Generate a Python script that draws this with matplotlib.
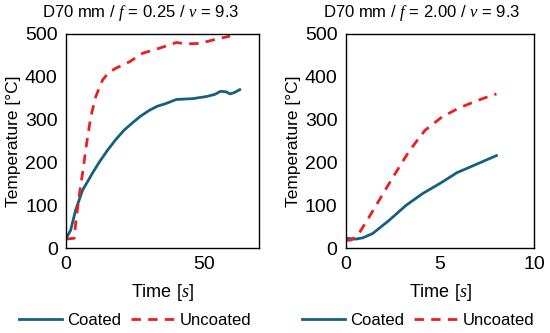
import matplotlib
matplotlib.use("Agg")
import matplotlib.pyplot as plt

plt.rcParams["font.family"] = ["Liberation Sans", "DejaVu Sans"]
plt.rcParams["mathtext.fontset"] = "custom"
plt.rcParams["mathtext.it"] = "Liberation Serif:italic"
plt.rcParams["mathtext.rm"] = "Liberation Sans"

COATED = "#15607f"
UNCOATED = "#e8201f"

# left panel: f = 0.25
t_coat_a = [0, 1.7, 3.5, 6, 9.6, 12, 15, 18, 21, 24, 27, 30.3, 33, 36, 40, 43, 46, 51, 54, 56, 58, 59.5, 61, 63]
T_coat_a = [22, 42, 89, 135, 175, 200, 228, 253, 275, 292, 308, 322, 331, 337, 347, 348, 349, 354, 359, 366, 365, 360, 363, 370]
t_unc_a = [0, 1.5, 3, 3.5, 4.7, 6, 7.5, 9, 10.8, 13.3, 15.5, 18.1, 23, 27.8, 34, 40, 43.7, 48.5, 54.6, 59.5]
T_unc_a = [21, 22, 23, 58, 119, 175, 245, 307, 354, 393, 410, 420, 435, 455, 467, 480, 477, 478, 488, 495]

# right panel: f = 2.00
t_coat_b = [0, 0.53, 0.9, 1.42, 2.3, 3.2, 4.1, 5.0, 5.9, 6.9, 8.0]
T_coat_b = [23, 21, 24, 34, 65, 100, 128, 151, 176, 195, 216]
t_unc_b = [0, 0.3, 0.7, 1.24, 1.77, 2.3, 2.84, 3.4, 4.2, 5.1, 6.0, 6.9, 7.7, 8.0]
T_unc_b = [18, 19, 35, 73, 112, 151, 190, 229, 275, 306, 327, 343, 356, 360]

panels = [
    (t_coat_a, T_coat_a, t_unc_a, T_unc_a, 70, [0, 50], r"D70 mm / $f$ = 0.25 / $v$ = 9.3"),
    (t_coat_b, T_coat_b, t_unc_b, T_unc_b, 10, [0, 5, 10], r"D70 mm / $f$ = 2.00 / $v$ = 9.3"),
]
boxes = [[0.12, 0.255, 0.351, 0.643], [0.629, 0.255, 0.342, 0.643]]
legend_x = [0.245, 0.76]
title_x = [0.256, 0.766]

fig = plt.figure(figsize=(5.5, 3.33), dpi=100)
for (tc, Tc, tu, Tu, xmax, xt, title), box, lx, tx in zip(panels, boxes, legend_x, title_x):
    ax = fig.add_axes(box)
    l1, = ax.plot(tc, Tc, color=COATED, lw=2, label="Coated")
    l2, = ax.plot(tu, Tu, color=UNCOATED, lw=2, ls=(0, (3.4, 2.6)), label="Uncoated")
    ax.set_xlim(0, xmax)
    ax.set_ylim(0, 500)
    ax.set_xticks(xt)
    ax.set_yticks(range(0, 501, 100))
    ax.tick_params(length=0, labelsize=14, pad=6)
    for s in ax.spines.values():
        s.set_linewidth(1)
    ax.set_xlabel("Time [$\\mathit{s}$]", fontsize=13, labelpad=6)
    ax.set_ylabel("Temperature [°C]", fontsize=12.5, labelpad=3)
    fig.text(tx, 0.962, title, fontsize=12, ha="center", va="center")
    fig.legend(handles=[l1, l2], loc="center", bbox_to_anchor=(lx, 0.038),
               ncol=2, frameon=False, fontsize=12, handlelength=2.6,
               columnspacing=0.6, handletextpad=0.3)

fig.savefig("out.png", dpi=100)
